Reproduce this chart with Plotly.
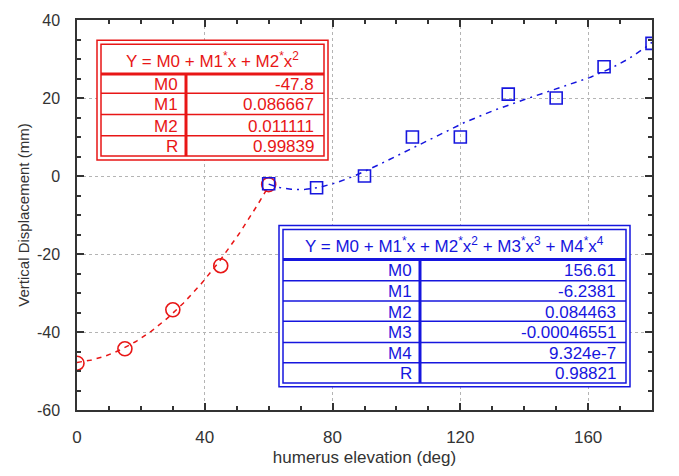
import numpy as np
import plotly.graph_objects as go

# ---- data ----
x_red = [0, 15, 30, 45, 60]
y_red = [-48, -44.3, -34.3, -23, -2.2]
x_blue = [60, 75, 90, 105, 120, 135, 150, 165, 180]
y_blue = [-2, -3, 0, 10, 10, 21, 20, 28, 34]

red_coef = [-47.8, 0.086667, 0.011111]  # M0, M1, M2
blue_coef = [156.61, -6.2381, 0.084463, -0.00046551, 9.324e-7]

red_labels = ["M0", "M1", "M2", "R"]
red_values = ["-47.8", "0.086667", "0.011111", "0.99839"]
blue_labels = ["M0", "M1", "M2", "M3", "M4", "R"]
blue_values = ["156.61", "-6.2381", "0.084463", "-0.00046551", "9.324e-7", "0.98821"]

x_ticks = [0, 40, 80, 120, 160]
x_ticktext = ["0", "40", "80", "120", "160"]
y_ticks = [-60, -40, -20, 0, 20, 40]
y_ticktext = ["-60", "-40", "-20", "0", "20", "40"]

RED = "rgb(232,22,22)"
BLUE = "rgb(22,22,222)"
AX = "#333333"
FONT = "Liberation Sans, Arial, sans-serif"

W, H = 679, 476
L, R_, T, B = 77, 27, 12, 60
PW, PH = W - L - R_, H - T - B


def px(xp):
    return (xp - L) / PW


def py(yp):
    return (H - B - yp) / PH


def poly(coefs, xs):
    xs = np.asarray(xs, dtype=float)
    return sum(c * xs ** i for i, c in enumerate(coefs))


xr = np.linspace(min(x_red), max(x_red), 120)
xb = np.linspace(min(x_blue), max(x_blue), 240)

fig = go.Figure()
fig.add_trace(go.Scatter(x=xr, y=poly(red_coef, xr), mode="lines",
                         line=dict(color=RED, width=1.5, dash="5px,5px"),
                         hoverinfo="skip"))
fig.add_trace(go.Scatter(x=xb, y=poly(blue_coef, xb), mode="lines",
                         line=dict(color=BLUE, width=1.5, dash="6px,5px,2px,5px"),
                         hoverinfo="skip"))
fig.add_trace(go.Scatter(x=x_red, y=y_red, mode="markers",
                         marker=dict(symbol="circle-open", size=14, color=RED,
                                     line=dict(width=1.6, color=RED))))
fig.add_trace(go.Scatter(x=x_blue, y=y_blue, mode="markers",
                         marker=dict(symbol="square-open", size=12, color=BLUE,
                                     line=dict(width=1.6, color=BLUE))))
# invisible trace to anchor the mirrored tick axes (top/right)
fig.add_trace(go.Scatter(x=[None], y=[None], xaxis="x2", yaxis="y2",
                         mode="markers", showlegend=False, hoverinfo="skip"))

shapes = []
annotations = []


def hline(x0, x1, y, color, width):
    shapes.append(dict(type="line", xref="paper", yref="paper",
                       x0=px(x0), x1=px(x1), y0=py(y), y1=py(y),
                       line=dict(color=color, width=width), layer="above"))


def vline(x, y0, y1, color, width):
    shapes.append(dict(type="line", xref="paper", yref="paper",
                       x0=px(x), x1=px(x), y0=py(y0), y1=py(y1),
                       line=dict(color=color, width=width), layer="above"))


def text(x, y, s, color, size, anchor):
    annotations.append(dict(xref="paper", yref="paper", x=px(x), y=py(y), text=s,
                            showarrow=False, xanchor=anchor, yanchor="middle",
                            font=dict(family=FONT, size=size, color=color)))


def table(box, inner, header_bottom, col_x, row_edges, header, labels, values, color):
    ox0, oy0, ox1, oy1 = box
    ix0, iy0, ix1, iy1 = inner
    shapes.append(dict(type="rect", xref="paper", yref="paper",
                       x0=px(ox0), x1=px(ox1), y0=py(oy0), y1=py(oy1),
                       line=dict(color=color, width=1.5), fillcolor="white", layer="above"))
    shapes.append(dict(type="rect", xref="paper", yref="paper",
                       x0=px(ix0), x1=px(ix1), y0=py(iy0), y1=py(iy1),
                       line=dict(color=color, width=1.5), layer="above"))
    hline(ix0, ix1, header_bottom, color, 3)
    vline(col_x, header_bottom, iy1, color, 3)
    for e in row_edges[1:-1]:
        hline(ix0, ix1, e, color, 1.5)
    text((ix0 + ix1) / 2, (iy0 + header_bottom) / 2 + 1, header, color, 17, "center")
    for i, (lab, val) in enumerate(zip(labels, values)):
        yc = (row_edges[i] + row_edges[i + 1]) / 2 + 1
        text(col_x - 6, yc, lab, color, 17, "right")
        text(ix1 - 8, yc, val, color, 17, "right")


# red table
table(box=(97, 33, 328, 157), inner=(101, 37, 324, 153), header_bottom=68, col_x=186,
      row_edges=[68, 88, 110, 132, 153],
      header="Y = M0 + M1<sup>*</sup>x + M2<sup>*</sup>x<sup>2</sup>",
      labels=red_labels, values=red_values, color=RED)

# blue table
table(box=(279, 225, 630, 392), inner=(283, 229, 626, 388), header_bottom=260, col_x=420,
      row_edges=[260, 282, 303, 324, 346, 367, 388],
      header="Y = M0 + M1<sup>*</sup>x + M2<sup>*</sup>x<sup>2</sup> + M3<sup>*</sup>x<sup>3</sup> + M4<sup>*</sup>x<sup>4</sup>",
      labels=blue_labels, values=blue_values, color=BLUE)

axis_common = dict(
    showline=True, linecolor=AX, linewidth=1.5, mirror=True,
    ticks="inside", ticklen=7, tickwidth=1.5, tickcolor=AX,
    showgrid=True, gridcolor="#b4b4b4", gridwidth=1, griddash="dot",
    zeroline=False,
)

mirror_common = dict(
    showline=False, ticks="inside", ticklen=7, tickwidth=1.5, tickcolor=AX,
    showgrid=False, zeroline=False, showticklabels=False,
)

fig.update_layout(
    width=W, height=H,
    margin=dict(l=L, r=R_, t=T, b=B),
    paper_bgcolor="white", plot_bgcolor="white",
    showlegend=False,
    hovermode=False,
    xaxis=dict(range=[0, 180], tickvals=x_ticks, ticktext=x_ticktext, ticklabelstandoff=11,
               tickfont=dict(family=FONT, size=17, color=AX),
               minor=dict(ticks="inside", ticklen=4, tickwidth=1.5, tickcolor=AX,
                          dtick=10, tick0=0, showgrid=False),
               title=dict(text="humerus elevation (deg)", standoff=5,
                          font=dict(family=FONT, size=17, color=AX)),
               **axis_common),
    yaxis=dict(range=[-60, 40], tickvals=y_ticks, ticktext=y_ticktext, ticklabelstandoff=12,
               tickfont=dict(family=FONT, size=16, color=AX),
               minor=dict(ticks="inside", ticklen=4, tickwidth=1.5, tickcolor=AX,
                          dtick=5, tick0=0, showgrid=False),
               title=dict(text="Vertical Displacement (mm)", standoff=4,
                          font=dict(family=FONT, size=15, color=AX)),
               **axis_common),
    xaxis2=dict(range=[0, 180], overlaying="x", side="top", anchor="y", tickvals=x_ticks,
                minor=dict(ticks="inside", ticklen=4, tickwidth=1.5, tickcolor=AX,
                           dtick=10, tick0=0, showgrid=False),
                **mirror_common),
    yaxis2=dict(range=[-60, 40], overlaying="y", side="right", anchor="x", tickvals=y_ticks,
                minor=dict(ticks="inside", ticklen=4, tickwidth=1.5, tickcolor=AX,
                           dtick=5, tick0=0, showgrid=False),
                **mirror_common),
    shapes=shapes,
    annotations=annotations,
)

fig.write_html("out.html")
